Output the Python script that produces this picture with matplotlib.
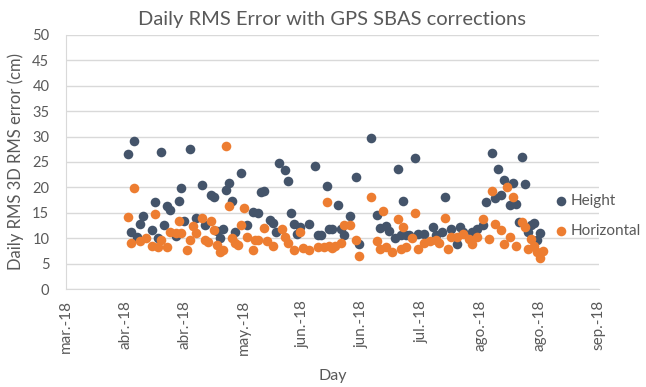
import matplotlib
matplotlib.use("Agg")
import matplotlib.pyplot as plt
import matplotlib.dates as mdates
import matplotlib.ticker as mticker
import pandas as pd

# Daily RMS error per day (cm), two solutions
height_dates = [
    "2018-04-07", "2018-04-08", "2018-04-09", "2018-04-10", "2018-04-11", "2018-04-12",
    "2018-04-15", "2018-04-16", "2018-04-17", "2018-04-18", "2018-04-19", "2018-04-20",
    "2018-04-21", "2018-04-23", "2018-04-24", "2018-04-25", "2018-04-26", "2018-04-28",
    "2018-04-30", "2018-05-02", "2018-05-03", "2018-05-05", "2018-05-06", "2018-05-07",
    "2018-05-08", "2018-05-09", "2018-05-10", "2018-05-11", "2018-05-12", "2018-05-13",
    "2018-05-15", "2018-05-17", "2018-05-19", "2018-05-21", "2018-05-22", "2018-05-23",
    "2018-05-25", "2018-05-26", "2018-05-27", "2018-05-28", "2018-05-30", "2018-05-31",
    "2018-06-01", "2018-06-02", "2018-06-03", "2018-06-04", "2018-06-07", "2018-06-09",
    "2018-06-10", "2018-06-11", "2018-06-13", "2018-06-14", "2018-06-15", "2018-06-17",
    "2018-06-18", "2018-06-19", "2018-06-21", "2018-06-23", "2018-06-24", "2018-06-28",
    "2018-06-30", "2018-07-01", "2018-07-03", "2018-07-04", "2018-07-06", "2018-07-07",
    "2018-07-08", "2018-07-09", "2018-07-10", "2018-07-11", "2018-07-13", "2018-07-14",
    "2018-07-16", "2018-07-19", "2018-07-20", "2018-07-22", "2018-07-23", "2018-07-25",
    "2018-07-27", "2018-07-28", "2018-07-29", "2018-08-01", "2018-08-03", "2018-08-05",
    "2018-08-06", "2018-08-08", "2018-08-09", "2018-08-10", "2018-08-11", "2018-08-12",
    "2018-08-14", "2018-08-15", "2018-08-16", "2018-08-17", "2018-08-18", "2018-08-19",
    "2018-08-20", "2018-08-21", "2018-08-22", "2018-08-23", "2018-08-24",
]
height_rms = [
    26.5, 11.2, 29.1, 10.3, 12.7, 14.4,
    11.6, 17.2, 10.0, 27.0, 12.6, 16.4,
    15.5, 10.4, 17.3, 19.9, 13.4, 27.5,
    13.9, 20.5, 12.6, 18.5, 18.2, 11.4,
    10.0, 11.9, 19.5, 20.8, 17.3, 11.3,
    22.8, 12.6, 15.2, 14.9, 19.0, 19.2,
    13.6, 13.0, 11.2, 24.9, 23.4, 21.2,
    15.0, 12.8, 10.8, 12.3, 12.7, 24.2,
    10.6, 10.6, 20.3, 11.9, 11.9, 16.5,
    11.8, 10.6, 14.4, 22.0, 8.8, 29.7,
    14.6, 12.0, 12.4, 11.4, 10.0, 23.6,
    10.6, 17.3, 10.6, 10.6, 25.7, 10.9,
    10.9, 12.3, 10.6, 11.2, 18.2, 11.9,
    8.9, 12.3, 11.2, 11.2, 11.9, 12.6,
    17.2, 26.7, 17.9, 23.7, 18.5, 21.4,
    16.6, 20.8, 16.8, 13.2, 26.0, 20.6,
    11.2, 12.6, 12.9, 9.6, 11.1,
]

horiz_dates = [
    "2018-04-07", "2018-04-08", "2018-04-09", "2018-04-11", "2018-04-13", "2018-04-15",
    "2018-04-16", "2018-04-17", "2018-04-18", "2018-04-20", "2018-04-21", "2018-04-23",
    "2018-04-24", "2018-04-25", "2018-04-27", "2018-04-28", "2018-04-29", "2018-04-30",
    "2018-05-02", "2018-05-03", "2018-05-04", "2018-05-05", "2018-05-06", "2018-05-07",
    "2018-05-08", "2018-05-09", "2018-05-10", "2018-05-11", "2018-05-12", "2018-05-13",
    "2018-05-14", "2018-05-15", "2018-05-16", "2018-05-17", "2018-05-19", "2018-05-20",
    "2018-05-21", "2018-05-23", "2018-05-24", "2018-05-26", "2018-05-29", "2018-05-30",
    "2018-05-31", "2018-06-02", "2018-06-04", "2018-06-05", "2018-06-07", "2018-06-10",
    "2018-06-12", "2018-06-13", "2018-06-14", "2018-06-15", "2018-06-16", "2018-06-18",
    "2018-06-19", "2018-06-21", "2018-06-23", "2018-06-24", "2018-06-28", "2018-06-30",
    "2018-07-01", "2018-07-02", "2018-07-03", "2018-07-05", "2018-07-07", "2018-07-08",
    "2018-07-09", "2018-07-10", "2018-07-12", "2018-07-13", "2018-07-14", "2018-07-16",
    "2018-07-18", "2018-07-20", "2018-07-21", "2018-07-23", "2018-07-24", "2018-07-25",
    "2018-07-27", "2018-07-29", "2018-07-31", "2018-08-01", "2018-08-03", "2018-08-05",
    "2018-08-07", "2018-08-08", "2018-08-09", "2018-08-11", "2018-08-12", "2018-08-13",
    "2018-08-14", "2018-08-15", "2018-08-16", "2018-08-18", "2018-08-19", "2018-08-20",
    "2018-08-21", "2018-08-22", "2018-08-23", "2018-08-24", "2018-08-25",
]
horiz_rms = [
    14.2, 9.0, 19.9, 9.5, 10.1, 8.5,
    14.8, 8.2, 9.6, 8.2, 11.3, 11.0,
    13.4, 11.0, 7.7, 9.6, 12.4, 11.0,
    13.9, 9.6, 9.3, 13.4, 11.6, 8.7,
    7.3, 7.6, 28.2, 16.4, 10.0, 9.1,
    8.7, 12.6, 16.0, 10.3, 7.6, 9.7,
    9.7, 12.1, 9.4, 8.5, 11.9, 10.3,
    9.1, 7.6, 11.3, 8.0, 7.6, 8.2,
    8.2, 17.1, 8.5, 8.0, 8.5, 9.1,
    12.6, 12.6, 9.7, 6.5, 18.2, 9.4,
    7.9, 15.4, 8.2, 7.3, 13.7, 7.9,
    12.2, 8.2, 10.0, 14.9, 7.9, 9.1,
    9.4, 9.7, 9.0, 13.9, 7.9, 10.2,
    10.2, 10.8, 9.8, 8.9, 10.2, 13.8,
    9.8, 19.2, 12.8, 11.6, 8.9, 20.0,
    10.2, 18.2, 8.5, 13.2, 12.2, 7.8,
    9.8, 8.5, 7.2, 6.1, 7.5,
]

axis_start = "2018-03-17"
axis_end = "2018-09-13"
tick_step_days = 20
month_es = ["ene.", "feb.", "mar.", "abr.", "may.", "jun.",
            "jul.", "ago.", "sep.", "oct.", "nov.", "dic."]

NAVY = "#44546A"
ORANGE = "#ED7D31"
GREY_TXT = "#595959"
GRID = "#D9D9D9"

plt.rcParams["font.family"] = ["Lato", "DejaVu Sans"]

fig = plt.figure(figsize=(6.46, 3.87), dpi=100)
ax = fig.add_axes([0.1022, 0.2532, 0.8248, 0.6564])

h_x = pd.to_datetime(height_dates)
o_x = pd.to_datetime(horiz_dates)
ax.scatter(h_x, height_rms, s=48, color=NAVY, linewidths=0, label="Height", zorder=3)
ax.scatter(o_x, horiz_rms, s=48, color=ORANGE, linewidths=0, label="Horizontal", zorder=4)

x0 = pd.Timestamp(axis_start)
x1 = pd.Timestamp(axis_end)
ax.set_xlim(x0, x1)
ax.set_ylim(0, 50)
ax.yaxis.set_major_locator(mticker.MultipleLocator(5))
ticks = pd.date_range(x0, x1, freq=f"{tick_step_days}D")
ax.set_xticks(ticks)


def es_month(val, pos):
    d = mdates.num2date(val)
    return f"{month_es[d.month - 1]}-{d.strftime('%y')}"


ax.xaxis.set_major_formatter(mticker.FuncFormatter(es_month))
plt.setp(ax.get_xticklabels(), rotation=90)

ax.grid(axis="y", color=GRID, linewidth=1)
ax.set_axisbelow(True)
for side in ["top", "right"]:
    ax.spines[side].set_visible(False)
for side in ["left", "bottom"]:
    ax.spines[side].set_color(GRID)
ax.tick_params(length=0, colors=GREY_TXT, labelsize=10.5)
ax.tick_params(axis="y", pad=12)
ax.tick_params(axis="x", pad=8, labelsize=11)

ax.set_title("Daily RMS Error with GPS SBAS corrections", color=GREY_TXT, fontsize=14.5, pad=7)
ax.set_xlabel("Day", color=GREY_TXT, fontsize=11.5, labelpad=10)
ax.set_ylabel("Daily RMS 3D RMS error (cm)", color=GREY_TXT, fontsize=12, labelpad=6)

fig.legend(loc="center left", bbox_to_anchor=(0.861, 0.442), frameon=False,
           fontsize=11, labelcolor=GREY_TXT, handletextpad=0.35, labelspacing=1.05,
           borderaxespad=0, borderpad=0, handlelength=0.6)

fig.savefig("out.png", dpi=100)
